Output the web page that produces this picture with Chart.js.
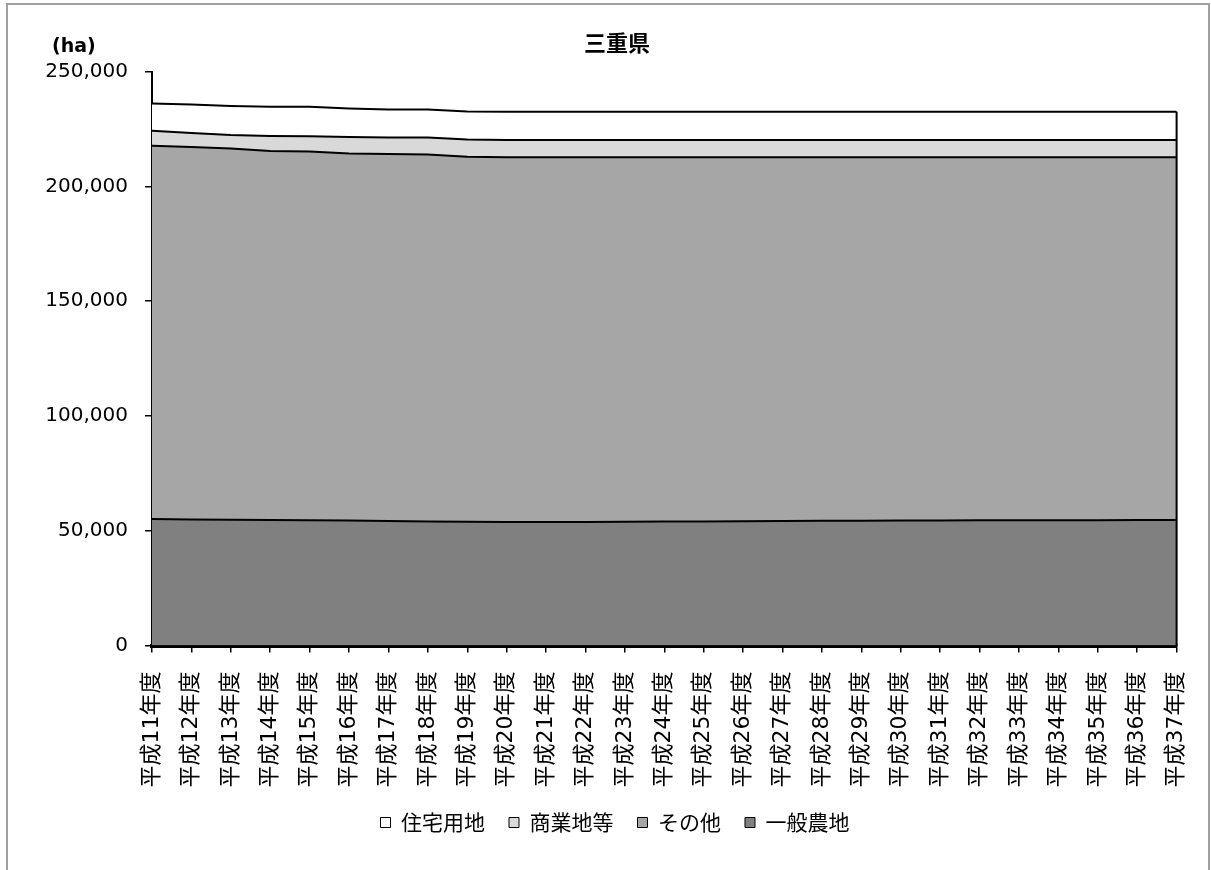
<!DOCTYPE html>
<html lang="ja">
<head>
<meta charset="utf-8">
<title>三重県</title>
<script src="https://cdn.jsdelivr.net/npm/chart.js@4.4.1/dist/chart.umd.min.js"></script>
<style>
  body { margin: 0; width: 1211px; height: 870px; background: #fff; overflow: hidden; position: relative; }
  .frame { position: absolute; left: 6px; top: 3px; width: 1204px; height: 900px; border: 2px solid #a0a0a0; box-sizing: border-box; }
  .chart-box { position: absolute; left: 8px; top: 5px; width: 1214px; height: 865px; }
  .title { position: absolute; left: 517px; width: 200px; top: 30px; text-align: center; font: bold 22px/22px 'Noto Sans CJK JP', sans-serif; color: #000; }
  .unit { position: absolute; left: 52px; top: 36px; font: bold 19px/19px 'DejaVu Sans', sans-serif; color: #000; }
</style>
</head>
<body>
<div class="frame"></div>
<div class="chart-box"><canvas id="chart" width="1214" height="865"></canvas></div>
<div class="title">三重県</div>
<div class="unit">(ha)</div>
<script>
const years = ['平成11年度', '平成12年度', '平成13年度', '平成14年度', '平成15年度', '平成16年度', '平成17年度',
    '平成18年度', '平成19年度', '平成20年度', '平成21年度', '平成22年度', '平成23年度', '平成24年度',
    '平成25年度', '平成26年度', '平成27年度', '平成28年度', '平成29年度', '平成30年度', '平成31年度',
    '平成32年度', '平成33年度', '平成34年度', '平成35年度', '平成36年度', '平成37年度'];

// 一般農地
const farmland = [55100, 54900, 54800, 54700, 54500, 54400, 54200, 54000, 53900, 53800, 53800, 53800, 53900, 54000,
    54000, 54100, 54200, 54300, 54300, 54400, 54400, 54500, 54500, 54600, 54600, 54700, 54700];
// その他
const other = [162600, 162200, 161700, 160700, 160700, 159900, 159900, 159800, 159000, 158800, 158800, 158800, 158700, 158600,
    158600, 158500, 158400, 158300, 158300, 158200, 158200, 158100, 158100, 158000, 158000, 157900, 157900];
// 商業地等
const commercial = [6500, 6100, 5800, 6500, 6600, 7200, 7200, 7400, 7500, 7600, 7600, 7600, 7600, 7600,
    7600, 7600, 7600, 7600, 7600, 7600, 7600, 7600, 7600, 7600, 7600, 7600, 7600];
// 住宅用地
const residential = [11900, 12400, 12700, 12800, 12800, 12400, 12200, 12200, 12200, 12300, 12300, 12300, 12300, 12300,
    12300, 12300, 12300, 12300, 12300, 12300, 12300, 12300, 12300, 12300, 12300, 12300, 12300];

const yTicks = [0, 50000, 100000, 150000, 200000, 250000];

const fontFamily = "'DejaVu Sans', 'Noto Sans CJK JP', sans-serif";

// excel draws the right edge of the stacked area, chart.js doesn't
const edgeLine = {
    id: 'edgeLine',
    afterDatasetsDraw(chart) {
        const {ctx, scales: {x, y}} = chart;
        const last = years.length - 1;
        const total = chart.data.datasets.reduce((sum, ds) => sum + ds.data[last], 0);
        const px = x.getPixelForValue(last);
        ctx.save();
        ctx.strokeStyle = '#000';
        ctx.lineWidth = 2;
        ctx.beginPath();
        ctx.moveTo(px, y.getPixelForValue(total));
        ctx.lineTo(px, y.getPixelForValue(0));
        ctx.stroke();
        ctx.restore();
    }
};

const makeSet = (label, data, color, fill) => ({
    label: label,
    data: data,
    backgroundColor: color,
    borderColor: '#000',
    borderWidth: 2,
    pointRadius: 0,
    tension: 0,
    fill: fill,
});

new Chart(document.getElementById('chart'), {
    type: 'line',
    data: {
        labels: years,
        datasets: [
            makeSet('一般農地', farmland, '#808080', 'origin'),
            makeSet('その他', other, '#a6a6a6', '-1'),
            makeSet('商業地等', commercial, '#d9d9d9', '-1'),
            makeSet('住宅用地', residential, '#ffffff', '-1'),
        ],
    },
    options: {
        responsive: false,
        animation: false,
        layout: {padding: {top: 66.5, right: 0, bottom: 27, left: 0}},
        plugins: {
            title: {display: false},
            tooltip: {enabled: false},
            legend: {
                position: 'bottom',
                reverse: true,
                labels: {
                    boxWidth: 10,
                    boxHeight: 10,
                    padding: 24,
                    color: '#000',
                    font: {size: 21, family: "'Noto Sans CJK JP', sans-serif"},
                    generateLabels(chart) {
                        const items = Chart.defaults.plugins.legend.labels.generateLabels(chart);
                        items.forEach(it => { it.lineWidth = 1; it.strokeStyle = '#000'; });
                        return items;
                    },
                },
            },
        },
        scales: {
            x: {
                offset: false,
                grid: {drawOnChartArea: false, tickLength: 7, color: '#000', lineWidth: 1.5},
                border: {color: '#000', width: 4},
                ticks: {
                    autoSkip: false,
                    minRotation: 90,
                    maxRotation: 90,
                    padding: 19,
                    color: '#000',
                    font: {size: 22, family: fontFamily},
                },
                afterFit(scale) { scale.height = 142.5; },
            },
            y: {
                stacked: true,
                min: yTicks[0],
                max: yTicks[yTicks.length - 1],
                grid: {drawOnChartArea: false, tickLength: 7, color: '#000', lineWidth: 1.5},
                border: {color: '#000', width: 2},
                afterBuildTicks(scale) { scale.ticks = yTicks.map(v => ({value: v})); },
                ticks: {
                    padding: 17,
                    color: '#000',
                    font: {size: 20, family: fontFamily},
                    callback: v => v.toLocaleString('en-US'),
                },
                afterFit(scale) { scale.width = 144; },
            },
        },
    },
    plugins: [edgeLine],
});
</script>
</body>
</html>
